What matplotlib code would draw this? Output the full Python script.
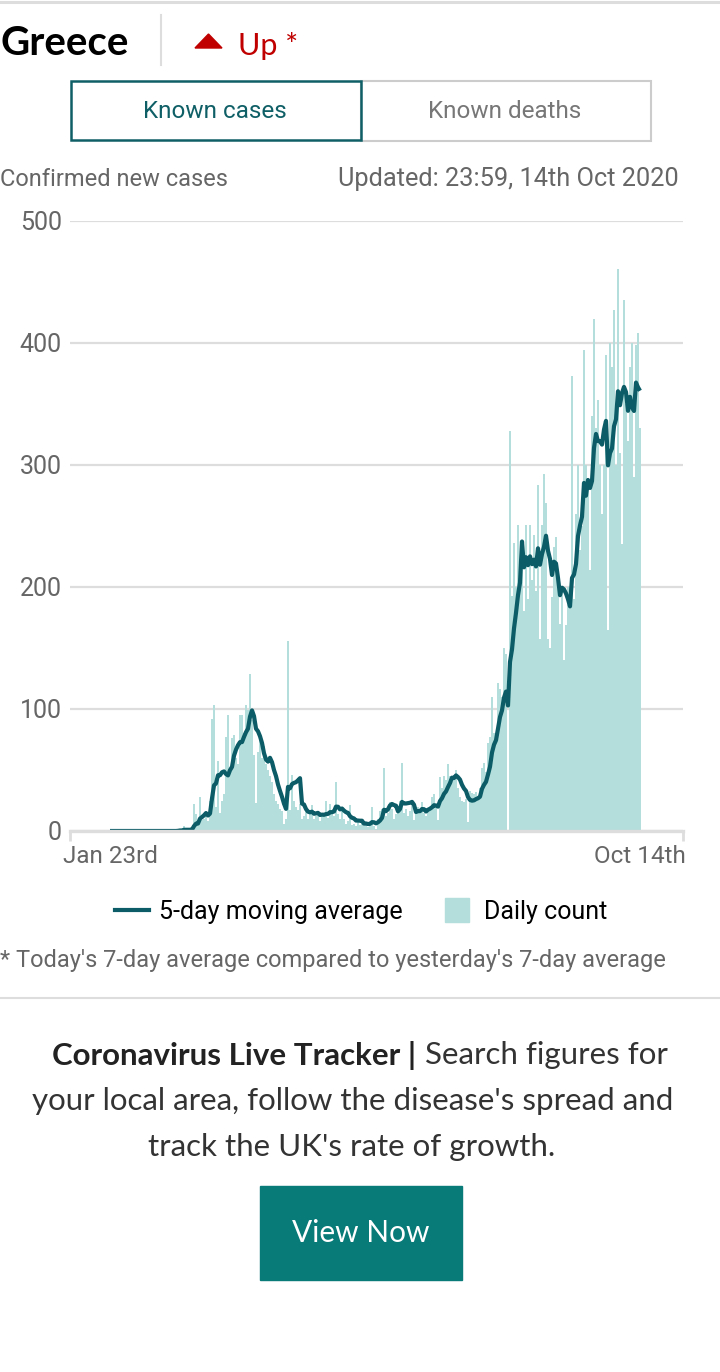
import numpy as np
import pandas as pd
import matplotlib
matplotlib.use("Agg")
import matplotlib.pyplot as plt
from matplotlib.lines import Line2D
from matplotlib.patches import Rectangle, Polygon

# daily confirmed new cases, Greece, 23 Jan - 14 Oct 2020
start_date = "2020-01-23"
end_date = "2020-10-14"
daily_cases = [
    # Jan 23-31
    0, 0, 0, 0, 0, 0, 0, 0, 0,
    # Feb
    0, 0, 0, 0, 0, 0, 0, 0, 0, 0, 0, 0, 0, 0, 0, 0, 0, 0, 0, 0, 0, 0, 0, 0, 0,
    1, 2, 0, 4,
    # Mar
    0, 0, 0, 2, 22, 14, 5, 28, 9, 10, 15, 8,
    25, 92, 103, 20, 57, 15, 25, 30, 77, 95,
    50, 76, 79, 60, 55, 95, 95, 80, 103,
    # Apr
    99, 129, 91, 62, 23, 65, 75, 60, 70, 55, 50,
    45, 40, 30, 25, 22, 18, 16, 6, 10, 156,
    17, 46, 25, 20, 17, 22, 10, 12, 20,
    # May
    10, 16, 21, 10, 12, 15, 8, 12, 15, 25,
    11, 22, 15, 12, 40, 14, 10, 16, 10, 6,
    8, 21, 5, 6, 4, 10, 5, 8, 4, 6, 3,
    # Jun
    5, 20, 4, 2, 10, 16, 18, 52, 12, 15,
    24, 18, 10, 14, 20, 25, 56, 15, 18, 12,
    16, 25, 9, 14, 20, 18, 24, 15, 12, 19,
    # Jul
    20, 28, 30, 22, 9, 44, 35, 45, 42, 55,
    45, 40, 42, 50, 35, 28, 25, 24, 26, 7,
    33, 31, 30, 32, 29, 35, 52, 56, 48, 72, 77,
    # Aug
    110, 80, 78, 121, 116, 110, 150, 145, 0, 328,
    193, 236, 200, 251, 217, 236, 180, 251, 190, 251,
    206, 243, 197, 284, 157, 251, 293, 269, 157, 150, 192,
    # Sep
    233, 241, 210, 170, 200, 140, 169, 200, 200, 373,
    190, 260, 300, 230, 250, 394, 300, 280, 214, 340,
    420, 330, 353, 300, 260, 300, 390, 165, 400, 380,
    # Oct 1-14
    427, 300, 461, 310, 235, 435, 350, 320, 380, 400, 290, 398, 408, 330,
]
avg_window = 7
y_ticks = [0, 100, 200, 300, 400, 500]
x_tick_labels = ["Jan 23rd", "Oct 14th"]
legend_labels = ["5-day moving average", "Daily count"]

dates = pd.date_range(start_date, end_date, freq="D")
days = np.asarray((dates - dates[0]).days)
moving_avg = pd.Series(daily_cases).rolling(avg_window, min_periods=1).mean()

bar_color = "#b3dedb"
line_color = "#0b5c66"
teal = "#0f5f66"
grey_text = "#666666"
light_grey = "#dddddd"
NARROW = ["Roboto", "DejaVu Sans"]
SANS = ["Lato", "DejaVu Sans"]

W, H = 720, 1372
fig = plt.figure(figsize=(W / 100, H / 100), dpi=100)


def fx(x):
    return x / W


def fy(y):
    return 1 - y / H


# header
fig.add_artist(Line2D([0, 1], [fy(1.5), fy(1.5)], color=light_grey, lw=2.2))
fig.text(fx(0), fy(55), "Greece", fontsize=29, fontweight="bold", family=SANS,
         color="black", ha="left", va="baseline")
fig.add_artist(Line2D([fx(161), fx(161)], [fy(15), fy(65)], color=light_grey, lw=1.5))
fig.add_artist(Polygon([[fx(195), fy(48)], [fx(222), fy(48)], [fx(208.5), fy(34)]],
                       closed=True, color="#c00000", transform=fig.transFigure))
fig.text(fx(238), fy(55), "Up *", fontsize=22, family=SANS, color="#c00000",
         ha="left", va="baseline")

# tabs
fig.add_artist(Rectangle((fx(361), fy(141)), fx(290), 60 / H, fill=False,
                         ec="#cccccc", lw=1.5, transform=fig.transFigure))
fig.add_artist(Rectangle((fx(71), fy(140)), fx(290), 59 / H, fill=False,
                         ec=teal, lw=1.8, transform=fig.transFigure))
fig.text(fx(215), fy(111), "Known cases", fontsize=17.5, family=NARROW, color=teal,
         ha="center", va="center")
fig.text(fx(505), fy(111), "Known deaths", fontsize=17.5, family=NARROW, color="#777777",
         ha="center", va="center")

fig.text(fx(0), fy(179), "Confirmed new cases", fontsize=17, family=NARROW,
         color=grey_text, ha="left", va="center")
fig.text(fx(679), fy(179), "Updated: 23:59, 14th Oct 2020", fontsize=18.3, family=NARROW,
         color=grey_text, ha="right", va="center")

# chart
ax = fig.add_axes([fx(70), fy(831), (683 - 70) / W, (831 - 221) / H])
ax.bar(days, daily_cases, width=0.85, color=bar_color, linewidth=0, zorder=2)
ax.plot(days, moving_avg, color=line_color, lw=3.0, solid_joinstyle="round",
        solid_capstyle="butt", zorder=3)

ax.set_xlim(-20, 286.5)
ax.set_ylim(0, 500)
ax.set_yticks(y_ticks)
ax.set_yticklabels([str(v) for v in y_ticks], fontsize=18, color=grey_text, family=NARROW)
ax.yaxis.grid(True, color=light_grey, lw=1.6, zorder=0)
ax.tick_params(axis="y", length=0, pad=6)
ax.set_xticks([days[0], days[-1]])
ax.set_xticklabels(x_tick_labels, fontsize=17.5, color=grey_text, family=NARROW)
ax.tick_params(axis="x", which="major", length=0, pad=10)
ax.set_xticks([-20, 286.5], minor=True)
ax.tick_params(axis="x", which="minor", length=7, width=2, color=light_grey)
for side in ["top", "right", "left"]:
    ax.spines[side].set_visible(False)
ax.spines["bottom"].set_color(light_grey)
ax.spines["bottom"].set_linewidth(2.4)
ax.spines["bottom"].set_zorder(4)

# legend
handles = [
    Line2D([], [], color=line_color, lw=3.0),
    Line2D([], [], marker="s", markersize=17, linestyle="none", color=bar_color),
]
fig.legend(handles, legend_labels, loc="center", bbox_to_anchor=(fx(361), fy(912)),
           ncol=2, frameon=False, handlelength=1.35, handletextpad=0.4,
           columnspacing=1.5, prop={"family": NARROW, "size": 18})

fig.text(fx(0), fy(960), "* Today's 7-day average compared to yesterday's 7-day average",
         fontsize=17, family=NARROW, color=grey_text, ha="left", va="center")
fig.add_artist(Line2D([0, 1], [fy(998), fy(998)], color=light_grey, lw=1.5))

# promo: bold lead-in followed by regular text, centred as one line
renderer = fig.canvas.get_renderer()
lead = fig.text(0, fy(1055), "Coronavirus Live Tracker |", fontsize=22.5, fontweight="bold",
                family=SANS, color="#222222", ha="left", va="center")
rest = fig.text(0, fy(1055), " Search figures for", fontsize=22.5, family=SANS,
                color="#333333", ha="left", va="center")
w_lead = lead.get_window_extent(renderer).width
w_rest = rest.get_window_extent(renderer).width
x0 = (W - w_lead - w_rest) / 2
lead.set_x(fx(x0))
rest.set_x(fx(x0 + w_lead))
fig.text(fx(353), fy(1101), "your local area, follow the disease's spread and", fontsize=22.5,
         family=SANS, color="#333333", ha="center", va="center")
fig.text(fx(352), fy(1147), "track the UK's rate of growth.", fontsize=22.5,
         family=SANS, color="#333333", ha="center", va="center")
fig.add_artist(Rectangle((fx(260), fy(1280)), fx(202), 94 / H, color="#087a78",
                         transform=fig.transFigure))
fig.text(fx(361), fy(1233), "View Now", fontsize=21.5, family=SANS, color="white",
         ha="center", va="center")

fig.savefig("out.png", dpi=100)
